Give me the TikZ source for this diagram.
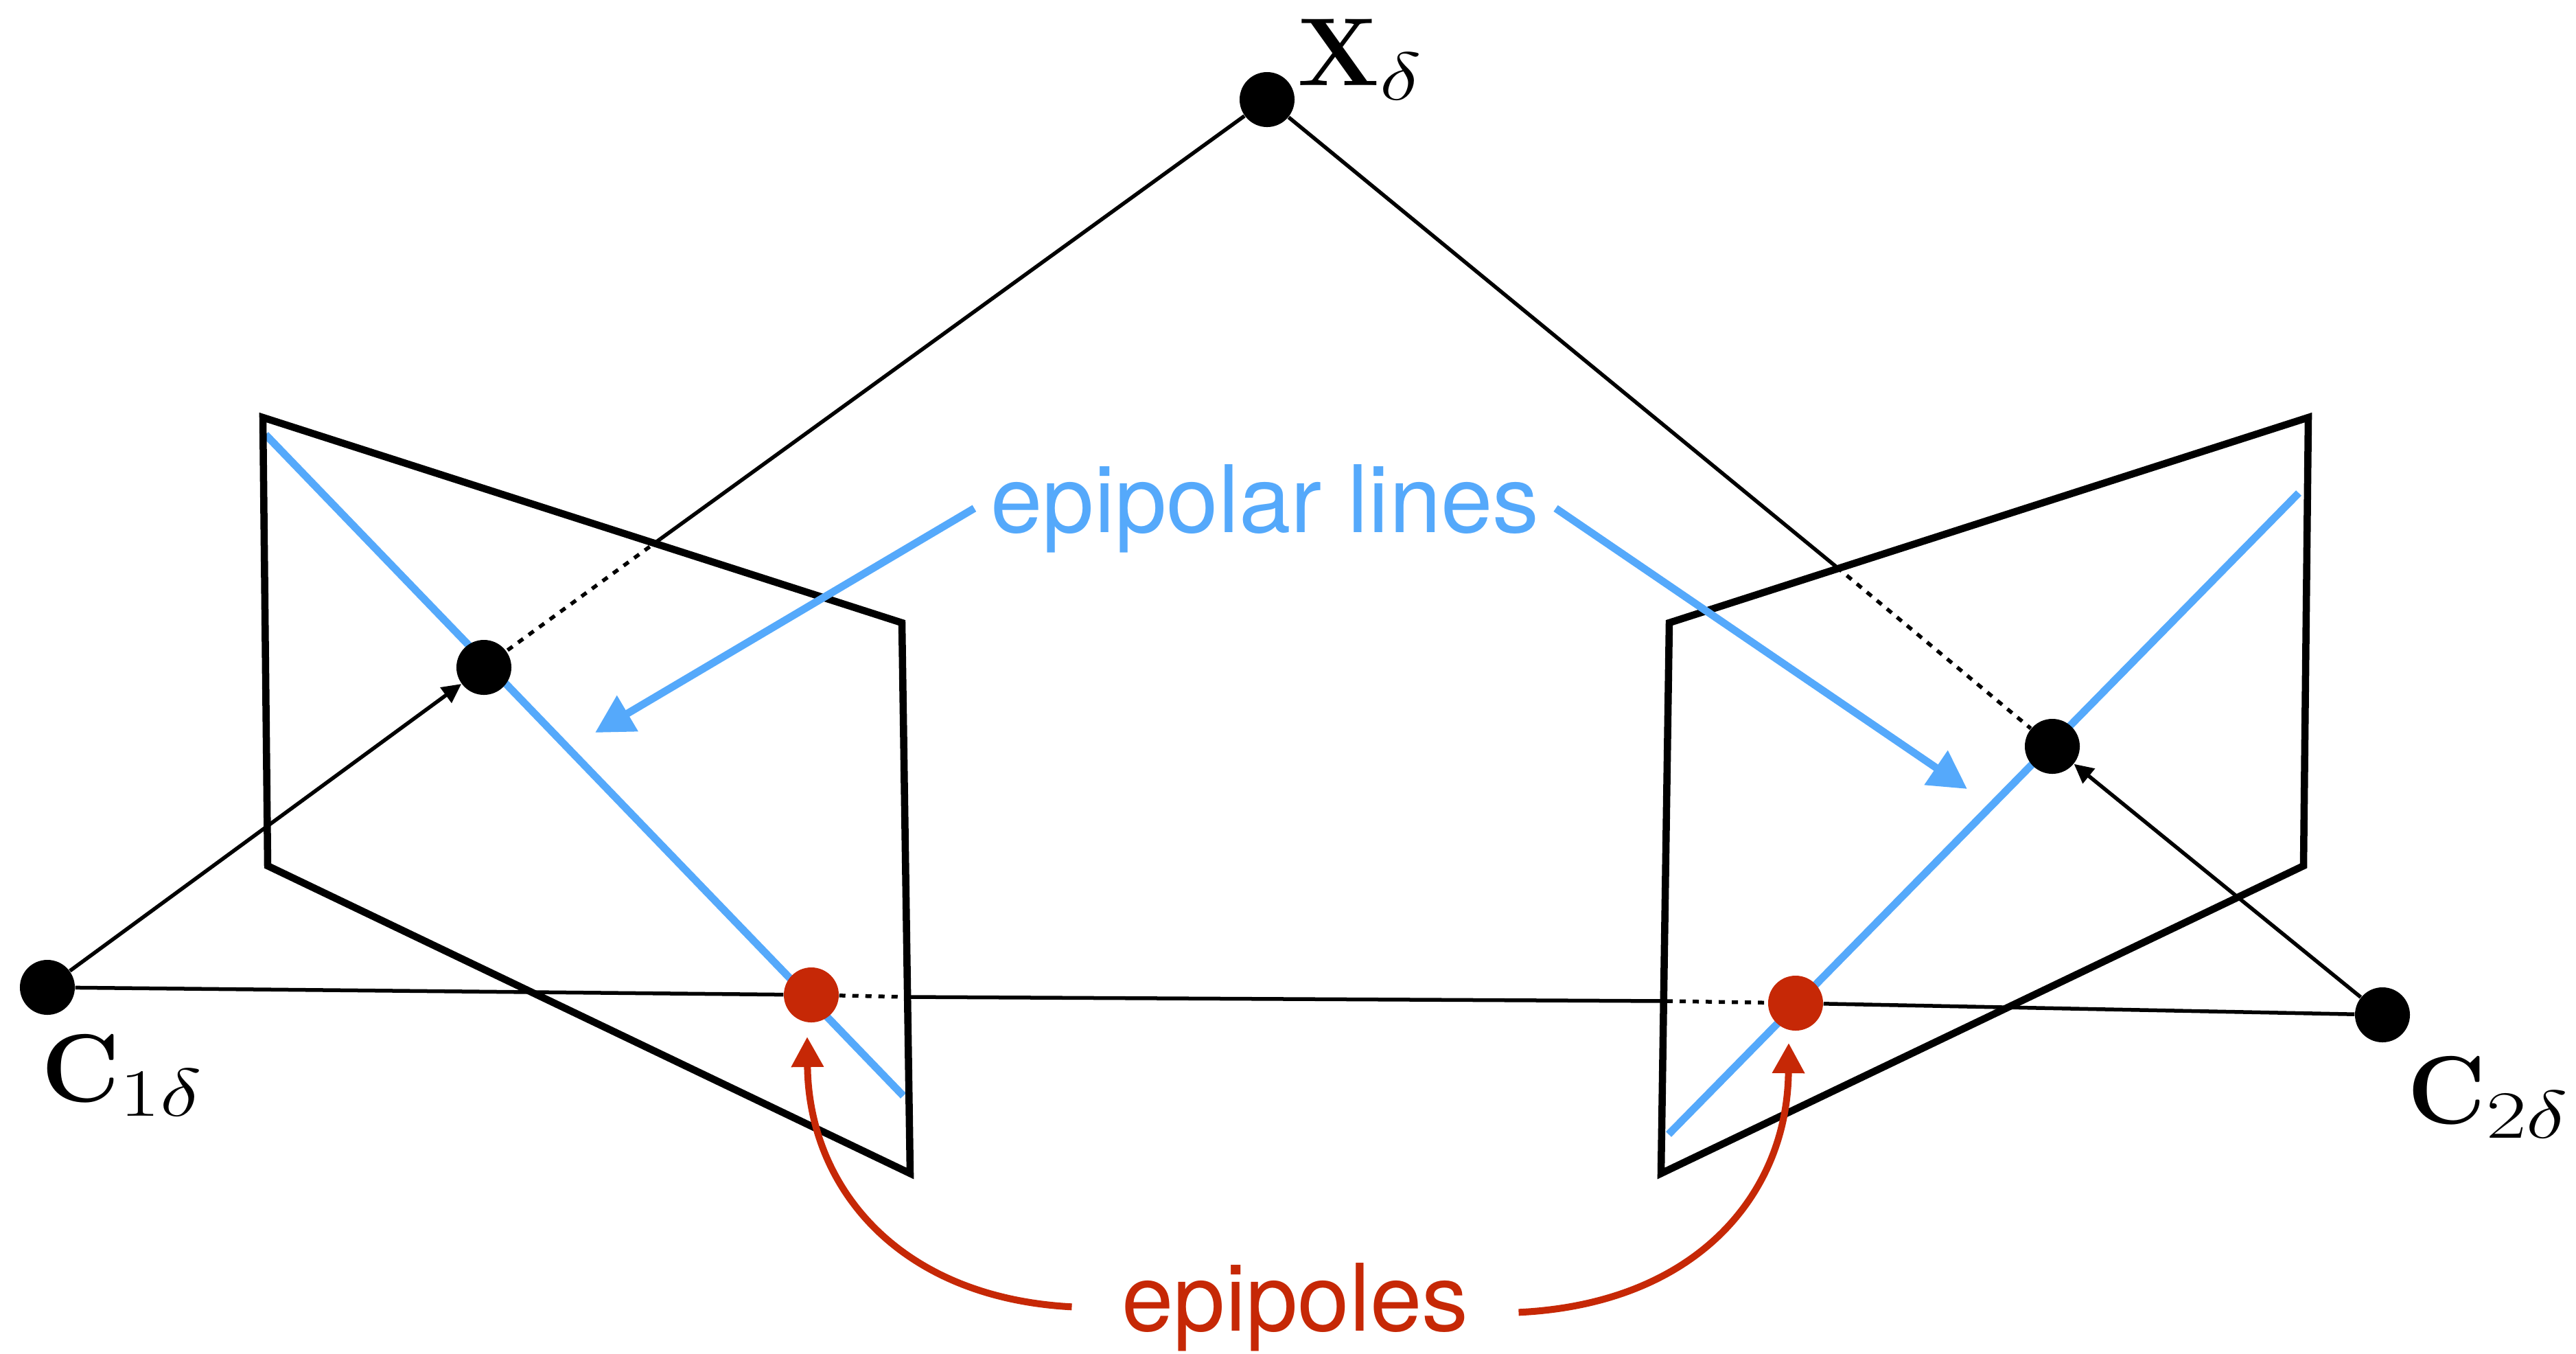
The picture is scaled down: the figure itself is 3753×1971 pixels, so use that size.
\documentclass[tikz,border=0pt]{standalone}
\usepackage{fix-cm}
\usepackage{amsmath}
\usepackage{graphicx}
\usepackage[no-math]{fontspec}
\usepackage{xcolor}
\usetikzlibrary{arrows.meta,backgrounds}
\newfontfamily\calloutfont{TeX Gyre Heros}
\definecolor{lineblue}{HTML}{55A9FB}
\definecolor{polered}{HTML}{C62806}
\newcommand{\widesub}[1]{\scalebox{1.3}[1]{$\scriptstyle #1$}}
\tikzset{
  blackdot/.style={circle, fill=black, minimum size=0.8cm, inner sep=0pt},
  reddot/.style={circle, fill=polered, minimum size=0.8cm, inner sep=0pt},
  planeline/.style={black, line width=0.105cm, line join=miter},
  rayline/.style={black, line width=0.055cm},
  rayhidden/.style={black, line width=0.055cm, dash pattern=on 0.09cm off 0.1cm},
  rayarrow/.style={rayline, -{Triangle[length=0.28cm,width=0.27cm]}},
  blueline/.style={lineblue, line width=0.11cm},
  bluearrow/.style={blueline, -{Triangle[length=0.55cm,width=0.58cm]}},
  redarrow/.style={polered, line width=0.1cm, -{Triangle[length=0.44cm,width=0.45cm]}},
  mathlabel/.style={anchor=base west, inner sep=0pt, font=\fontsize{40}{48}\selectfont},
  calloutlabel/.style={anchor=base, inner ysep=0pt, font=\calloutfont\fontsize{38.6}{46}\selectfont}
}
\newcommand{\planeoutline}[4]{\draw[planeline] (#1) -- (#2) -- (#3) -- (#4) -- cycle;}

\begin{document}
\begin{tikzpicture}[x=0.01cm, y=-0.01cm]
  \useasboundingbox (0,0) rectangle (3753,1971);

  % image planes
  \coordinate (la) at (383,608);
  \coordinate (lb) at (1314,907);
  \coordinate (lc) at (1326,1709);
  \coordinate (ld) at (390,1261);
  \coordinate (ra) at (2432,907);
  \coordinate (rb) at (3363,608);
  \coordinate (rc) at (3356,1261);
  \coordinate (rd) at (2420,1709);
  \planeoutline{la}{lb}{lc}{ld}
  \planeoutline{ra}{rb}{rc}{rd}

  % points
  \node[blackdot] (xd) at (1846,145) {};
  \node[blackdot] (pl) at (705,972) {};
  \node[blackdot] (pr) at (2990,1087) {};
  \node[blackdot] (cl) at (69,1438) {};
  \node[blackdot] (cr) at (3471,1478) {};
  \node[reddot] (el) at (1182,1449) {};
  \node[reddot] (er) at (2616,1461) {};

  \node[mathlabel] (xdlabel) at (1890,124) {$\mathbf{X}_{\widesub{\delta}}$};
  \node[mathlabel] (cllabel) at (60,1604) {$\mathbf{C}_{\widesub{1\delta}}$};
  \node[mathlabel] (crlabel) at (3507,1636) {$\mathbf{C}_{\widesub{2\delta}}$};

  % epipolar lines
  \coordinate (bla) at (387,633);
  \coordinate (blb) at (1316,1596);
  \coordinate (bra) at (3349,718);
  \coordinate (brb) at (2431,1652);
  \begin{scope}[on background layer]
    \draw[blueline] (bla) -- (blb);
    \draw[blueline] (bra) -- (brb);
  \end{scope}

  % rays
  \coordinate (hl) at (962,785);
  \coordinate (hr) at (2676,826);
  \draw[rayline] (xd) -- (hl);
  \draw[rayhidden] (hl) -- (pl);
  \draw[rayline] (xd) -- (hr);
  \draw[rayhidden] (hr) -- (pr);
  \draw[rayarrow] (cl) -- (pl);
  \draw[rayarrow] (cr) -- (pr);

  % baseline
  \coordinate (bl) at (1323,1452);
  \coordinate (br) at (2428,1458);
  \draw[rayline] (cl) -- (el);
  \draw[rayhidden] (el) -- (bl);
  \draw[rayline] (bl) -- (br);
  \draw[rayhidden] (br) -- (er);
  \draw[rayline] (er) -- (cr);

  % callouts
  \node[calloutlabel, lineblue, inner xsep=0.23cm] (linelabel) at (1843,775) {epipolar lines};
  \coordinate (tipl) at (867,1067);
  \coordinate (tipr) at (2866,1149);
  \draw[bluearrow] (linelabel.west) -- (tipl);
  \draw[bluearrow] (linelabel.east) -- (tipr);

  \node[calloutlabel, polered, inner xsep=0.72cm] (polelabel) at (1887,1938) {epipoles};
  \coordinate (tipel) at (1176,1510);
  \coordinate (tiper) at (2606,1519);
  \draw[redarrow] (polelabel.west) .. controls (1310,1890) and (1178,1730) .. (tipel);
  \draw[redarrow] ([yshift=-0.08cm]polelabel.east) .. controls (2472,1899) and (2604,1739) .. (tiper);
\end{tikzpicture}
\end{document}
